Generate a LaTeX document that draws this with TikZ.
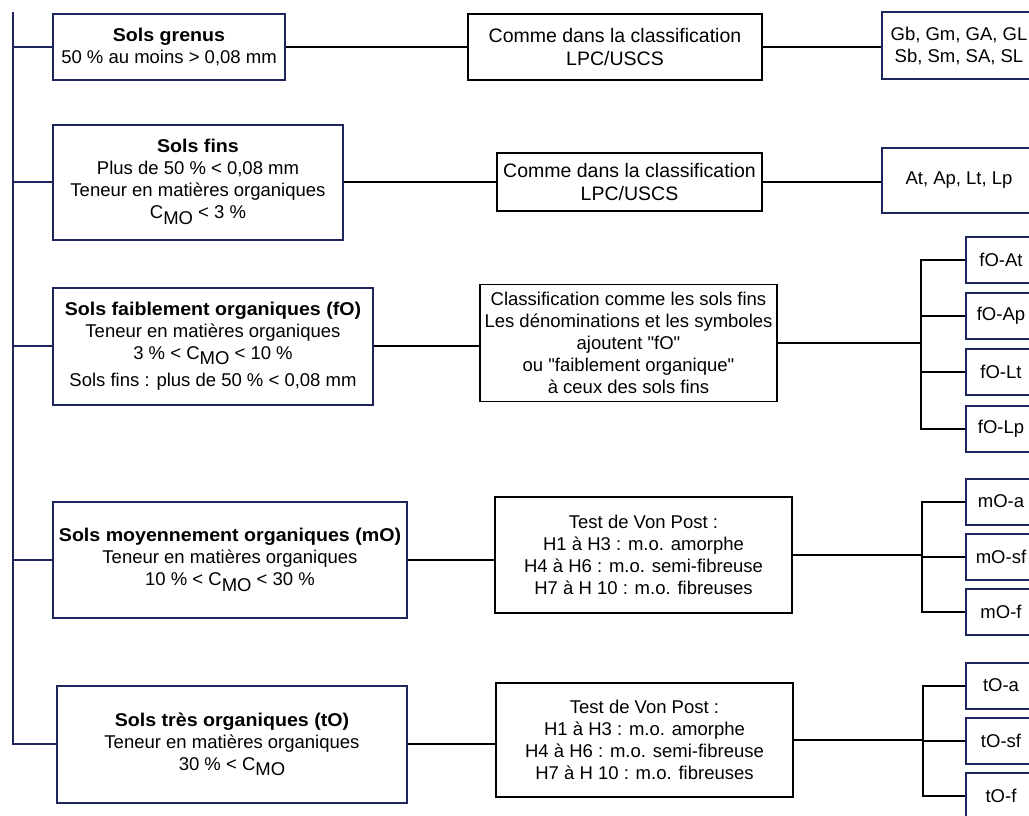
\documentclass[tikz,border=0pt]{standalone}
\usepackage{fontspec}
\setmainfont{Liberation Sans}[BoldFeatures={FakeStretch=1.06}]
\definecolor{navy}{RGB}{28,38,92}
\newcommand{\cmo}{C\raisebox{-0.55ex}{MO}}
\newcommand{\qq}{\textquotedbl}
\begin{document}
\begin{tikzpicture}[x=1pt,y=-1pt,
  txt/.style={align=center, inner sep=0pt, font=\fontsize{18.5}{22}\selectfont, text=black},
  lbox/.style={txt, draw=navy, line width=2pt, fill=white},
  mbox/.style={txt, draw=black, line width=1.8pt, fill=white},
  rbox/.style={txt, draw=navy, line width=2pt, fill=white},
  conn/.style={draw=black, line width=2pt},
  trunk/.style={draw=navy, line width=2pt}]
\useasboundingbox (0,0) rectangle (1029,815);
\fill[white] (0,0) rectangle (1029,815);
% left boxes
\node[lbox, minimum width=232pt, minimum height=66pt] (b1) at (169,47)
  {\textbf{Sols grenus}\\50 \% au moins > 0,08 mm};
\node[lbox, minimum width=290pt, minimum height=115pt] (b2) at (198,182)
  {\textbf{Sols fins}\\Plus de 50 \% < 0,08 mm\\Teneur en matières organiques\\\cmo{} < 3 \%};
\node[lbox, minimum width=320pt, minimum height=117pt] (b3) at (213,346)
  {\textbf{Sols faiblement organiques (fO)}\\Teneur en matières organiques\\3 \% < \cmo{} < 10 \%\\[5pt]Sols fins : plus de 50 \% < 0,08 mm};
\node[lbox, minimum width=354pt, minimum height=116pt] (b4) at (230,560)
  {\textbf{Sols moyennement organiques (mO)}\\Teneur en matières organiques\\10 \% < \cmo{} < 30 \%};
\node[lbox, minimum width=350pt, minimum height=117pt] (b5) at (232,744)
  {\textbf{Sols très organiques (tO)}\\Teneur en matières organiques\\30 \% < \cmo};
% middle boxes
\node[mbox, minimum width=294pt, minimum height=66pt, font=\fontsize{19.5}{23}\selectfont] (m1) at (615,47)
  {Comme dans la classification\\LPC/USCS};
\node[mbox, minimum width=265pt, minimum height=58pt, font=\fontsize{19.5}{23}\selectfont] (m2) at (629.5,182)
  {Comme dans la classification\\LPC/USCS};
\node[mbox, minimum width=297pt, minimum height=117pt] (m3) at (628.5,343)
  {Classification comme les sols fins\\Les dénominations et les symboles\\ajoutent \qq fO\qq\\ou \qq faiblement organique\qq\\à ceux des sols fins};
\node[mbox, minimum width=297pt, minimum height=116pt] (m4) at (643.5,555)
  {Test de Von Post :\\H1 à H3 : m.o. amorphe\\H4 à H6 : m.o. semi-fibreuse\\H7 à H 10 : m.o. fibreuses};
\node[mbox, minimum width=297pt, minimum height=114pt] (m5) at (644.5,740)
  {Test de Von Post :\\H1 à H3 : m.o. amorphe\\H4 à H6 : m.o. semi-fibreuse\\H7 à H 10 : m.o. fibreuses};
% right boxes
\node[rbox, minimum width=154pt, minimum height=67pt] (r1) at (959,45.5)
  {Gb, Gm, GA, GL\\Sb, Sm, SA, SL};
\node[rbox, minimum width=154pt, minimum height=65pt] (r2) at (959,180.5)
  {At, Ap, Lt, Lp};
\tikzset{sbox/.style={rbox, minimum width=70pt, minimum height=46pt}}
\node[sbox] (fa) at (1001,260) {fO-At};
\node[sbox] (fb) at (1001,316) {fO-Ap};
\node[sbox] (fc) at (1001,371.5) {fO-Lt};
\node[sbox] (fd) at (1001,428.5) {fO-Lp};
\node[sbox] (ma) at (1001,501.5) {mO-a};
\node[sbox] (mb) at (1001,556.5) {mO-sf};
\node[sbox] (mc) at (1001,611.5) {mO-f};
\node[sbox] (ta) at (1001,685.5) {tO-a};
\node[sbox] (tb) at (1001,740.5) {tO-sf};
\node[sbox] (tc) at (1001,795.5) {tO-f};
% trunk
\coordinate (tk) at (13,12);
\draw[trunk] (tk) -- (tk |- b5.west) -- (b5.west);
\foreach \n in {b1,b2,b3,b4} \draw[trunk] (tk |- \n.west) -- (\n.west);
% row connectors
\draw[conn] (b1.east) -- (b1.east -| m1.west);
\draw[conn] (m1.east) -- (m1.east -| r1.west);
\draw[conn] (b2.east) -- (b2.east -| m2.west);
\draw[conn] (m2.east) -- (m2.east -| r2.west);
\draw[conn] (b3.east) -- (b3.east -| m3.west);
\draw[conn] (b4.east) -- (b4.east -| m4.west);
\draw[conn] (b5.east) -- (b5.east -| m5.west);
% branches
\coordinate (k3) at (921,0);
\coordinate (k4) at (922,0);
\coordinate (k5) at (923,0);
\draw[conn] (m3.east) -- (m3.east -| k3);
\draw[conn] (fa.west) -- (fa.west -| k3) -- (fd.west -| k3) -- (fd.west);
\draw[conn] (fb.west) -- (fb.west -| k3);
\draw[conn] (fc.west) -- (fc.west -| k3);
\draw[conn] (m4.east) -- (m4.east -| k4);
\draw[conn] (ma.west) -- (ma.west -| k4) -- (mc.west -| k4) -- (mc.west);
\draw[conn] (mb.west) -- (mb.west -| k4);
\draw[conn] (m5.east) -- (m5.east -| k5);
\draw[conn] (ta.west) -- (ta.west -| k5) -- (tc.west -| k5) -- (tc.west);
\draw[conn] (tb.west) -- (tb.west -| k5);
\end{tikzpicture}
\end{document}
